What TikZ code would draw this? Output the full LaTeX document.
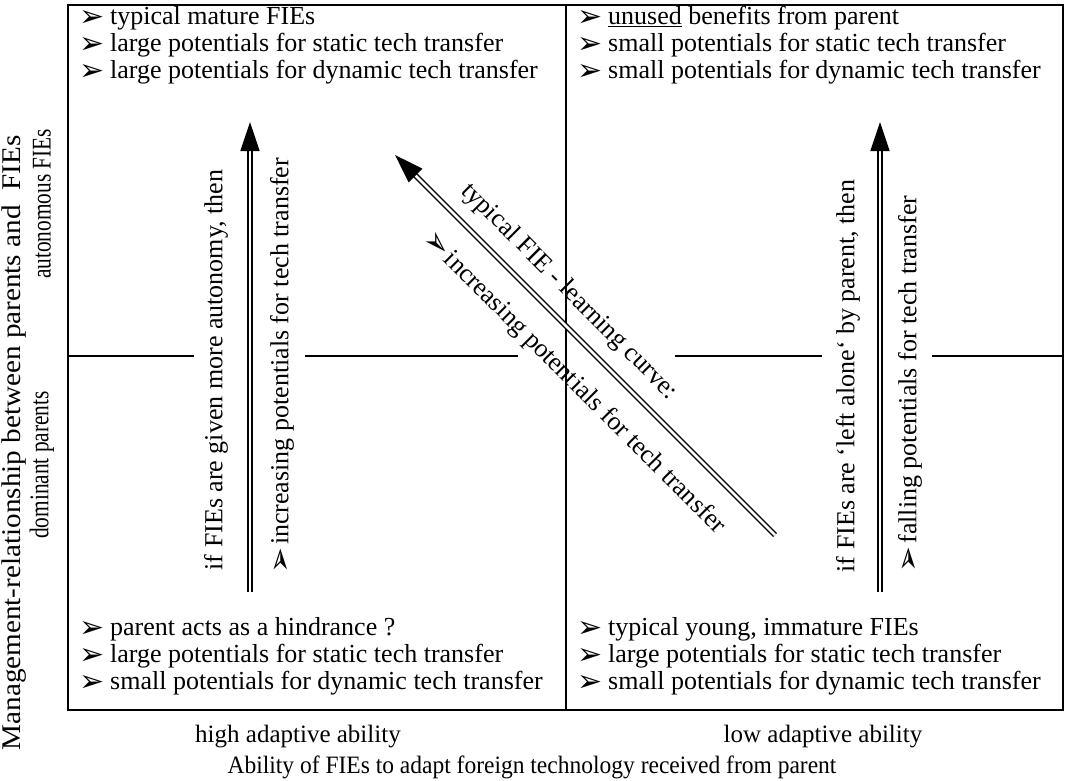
\documentclass[tikz,border=0pt]{standalone}
\usepackage{fontspec}
\setmainfont{Liberation Serif}
\newfontfamily\dv{DejaVu Sans}
\usetikzlibrary{arrows.meta}
\newcommand\blt[2]{\makebox[#1][l]{\raisebox{-2pt}{\dv\fontsize{#2}{#2}\selectfont ➢}}}
\begin{document}
\begin{tikzpicture}[x=1pt,y=-1pt,
  frame/.style={line width=2.6pt},
  midline/.style={line width=2pt},
  qline/.style={inner sep=0pt, anchor=base west, font=\fontsize{26}{27}\selectfont},
  rtext/.style={inner sep=0pt, font=\fontsize{26}{27}\selectfont},
  axlabel/.style={inner sep=0pt, font=\fontsize{25}{27}\selectfont},
  sidelabel/.style={inner sep=0pt, rotate=90, font=\fontsize{27}{29}\selectfont},
  dblarrow/.style={double, line width=1.5pt, double distance=2.6pt, -{Triangle[length=29pt,width=19pt]}},
]
\useasboundingbox (0,0) rectangle (1065,781);
% frame
\draw[frame] (68,5) rectangle (1063,710);
\coordinate (mt) at (566,5);
\coordinate (mb) at (566,710);
\draw[midline] (mt) -- (mb);
\coordinate (h1a) at (68,356);  \coordinate (h1b) at (194,356);
\coordinate (h2a) at (305,356); \coordinate (h2b) at (518,356);
\coordinate (h3a) at (675,356); \coordinate (h3b) at (822,356);
\coordinate (h4a) at (932,356); \coordinate (h4b) at (1063,356);
\draw[midline] (h1a) -- (h1b);
\draw[midline] (h2a) -- (h2b);
\draw[midline] (h3a) -- (h3b);
\draw[midline] (h4a) -- (h4b);
% top-left
\node[qline] (tl1) at (79,25) {\blt{31pt}{30}typical mature FIEs};
\node[qline] (tl2) at (79,52) {\blt{31pt}{30}large potentials for static tech transfer};
\node[qline] (tl3) at (79,79) {\blt{31pt}{30}large potentials for dynamic tech transfer};
% top-right
\node[qline] (tr1) at (577,25) {\blt{31pt}{30}\underline{unused} benefits from parent};
\node[qline] (tr2) at (577,52) {\blt{31pt}{30}small potentials for static tech transfer};
\node[qline] (tr3) at (577,79) {\blt{31pt}{30}small potentials for dynamic tech transfer};
% bottom-left
\node[qline] (bl1) at (79,635) {\blt{31pt}{30}parent acts as a hindrance ?};
\node[qline] (bl2) at (79,662) {\blt{31pt}{30}large potentials for static tech transfer};
\node[qline] (bl3) at (79,689) {\blt{31pt}{30}small potentials for dynamic tech transfer};
% bottom-right
\node[qline] (br1) at (577,635) {\blt{31pt}{30}typical young, immature FIEs};
\node[qline] (br2) at (577,662) {\blt{31pt}{30}large potentials for static tech transfer};
\node[qline] (br3) at (577,689) {\blt{31pt}{30}small potentials for dynamic tech transfer};
% arrows
\coordinate (la0) at (250,592); \coordinate (la1) at (250,122);
\coordinate (ra0) at (880,592); \coordinate (ra1) at (880,122);
\coordinate (da0) at (775,535); \coordinate (da1) at (395,155);
\draw[dblarrow] (la0) -- (la1);
\draw[dblarrow] (ra0) -- (ra1);
\draw[dblarrow] (da0) -- (da1);
% rotated texts
\node[rtext, rotate=90] (lt1) at (216,370) {if FIEs are given more autonomy, then};
\node[rtext, rotate=90] (lt2) at (282,366) {\blt{29pt}{31}increasing potentials for tech transfer};
\node[rtext, rotate=90] (rt1) at (848,376) {if FIEs are ‘left alone‘ by parent, then};
\node[rtext, rotate=90] (rt2) at (910,384) {\blt{29pt}{31}falling potentials for tech transfer};
\node[rtext, rotate=-45] (dt1) at (569,292) {typical FIE - learning curve:};
\node[rtext, rotate=-45] (dt2) at (574,383) {\blt{29pt}{31}increasing potentials for tech transfer};
% axis labels
\node[sidelabel] (yl) at (14,443) {\scalebox{1.08}[1]{Management-relationship between parents and \ FIEs}};
\node[sidelabel] (yhi) at (42,204) {\scalebox{0.79}[1]{autonomous FIEs}};
\node[sidelabel] (ylo) at (42,465) {\scalebox{0.79}[1]{dominant parents}};
\node[axlabel] (xhi) at (298,737) {high adaptive ability};
\node[axlabel] (xlo) at (823,737) {low adaptive ability};
\node[axlabel] (xl) at (532,767) {\scalebox{0.94}[1]{Ability of FIEs to adapt foreign technology received from parent}};
\end{tikzpicture}
\end{document}
